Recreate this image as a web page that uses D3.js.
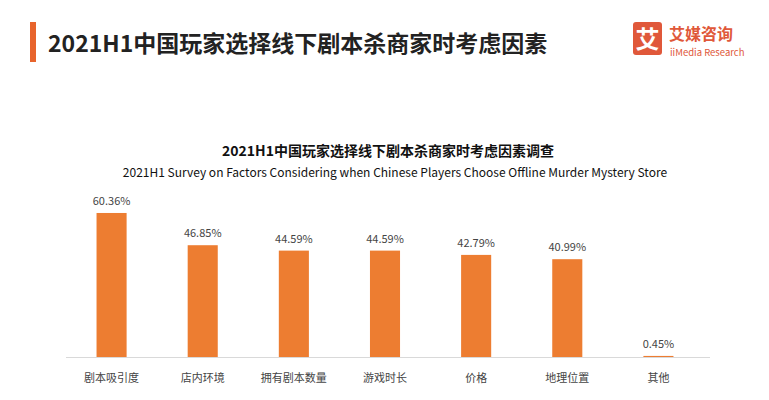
<!DOCTYPE html>
<html><head><meta charset="utf-8">
<script src="https://cdn.jsdelivr.net/npm/d3@7"></script>
<style>body{margin:0;background:#fff;font-family:"Noto Sans CJK SC","Noto Sans",sans-serif;}</style>
</head><body><div id="chart"></div>
<script>
const categories = ['剧本吸引度', '店内环境', '拥有剧本数量', '游戏时长', '价格', '地理位置', '其他'];
const values = [60.36, 46.85, 44.59, 44.59, 42.79, 40.99, 0.45];

const width = 769, height = 400;
const svg = d3.select('#chart').append('svg').attr('width', width).attr('height', height);

// header
svg.append('rect').attr('x', 30).attr('y', 22).attr('width', 6).attr('height', 40).attr('fill', '#e8642c');
svg.append('text').attr('x', 48).attr('y', 52).attr('font-size', 23).attr('font-weight', 'bold')
    .attr('fill', '#222').text('2021H1中国玩家选择线下剧本杀商家时考虑因素');

// logo
svg.append('rect').attr('x', 633).attr('y', 22).attr('width', 29).attr('height', 33).attr('rx', 3).attr('fill', '#e0583a');
svg.append('text').attr('x', 647.5).attr('y', 48).attr('text-anchor', 'middle').attr('font-size', 24)
    .attr('font-weight', 'bold').attr('fill', '#fff').text('艾');
svg.append('text').attr('x', 669).attr('y', 40).attr('font-size', 16).attr('font-weight', 'bold')
    .attr('fill', '#e0583a').text('艾媒咨询');
svg.append('text').attr('x', 670).attr('y', 56).attr('font-size', 9.5)
    .attr('fill', '#e0583a').text('iiMedia Research');

// chart titles
svg.append('text').attr('x', 388).attr('y', 156).attr('text-anchor', 'middle').attr('font-size', 14)
    .attr('font-weight', 'bold').attr('fill', '#111').text('2021H1中国玩家选择线下剧本杀商家时考虑因素调查');
svg.append('text').attr('x', 395).attr('y', 177).attr('text-anchor', 'middle').attr('font-size', 12)
    .attr('fill', '#111').text('2021H1 Survey on Factors Considering when Chinese Players Choose Offline Murder Mystery Store');

const x = d3.scaleBand().domain(categories).range([66, 704]).paddingInner(0.67).paddingOuter(0.335);
const y = d3.scaleLinear().domain([0, 100]).range([357, 118.4]);

svg.append('line').attr('x1', 66).attr('x2', 710).attr('y1', 357.5).attr('y2', 357.5)
    .attr('stroke', '#d9d9d9');

svg.selectAll('.bar').data(values).join('rect').attr('class', 'bar')
    .attr('x', (d, i) => x(categories[i])).attr('width', x.bandwidth())
    .attr('y', d => y(d)).attr('height', d => y(0) - y(d)).attr('fill', '#ed7d31');

svg.selectAll('.val').data(values).join('text').attr('class', 'val')
    .attr('x', (d, i) => x(categories[i]) + x.bandwidth() / 2).attr('y', d => y(d) - 8)
    .attr('text-anchor', 'middle').attr('font-size', 11).attr('fill', '#444').text(d => d.toFixed(2) + '%');

svg.selectAll('.cat').data(categories).join('text').attr('class', 'cat')
    .attr('x', d => x(d) + x.bandwidth() / 2).attr('y', 382)
    .attr('text-anchor', 'middle').attr('font-size', 11).attr('fill', '#444').text(d => d);
</script></body></html>
